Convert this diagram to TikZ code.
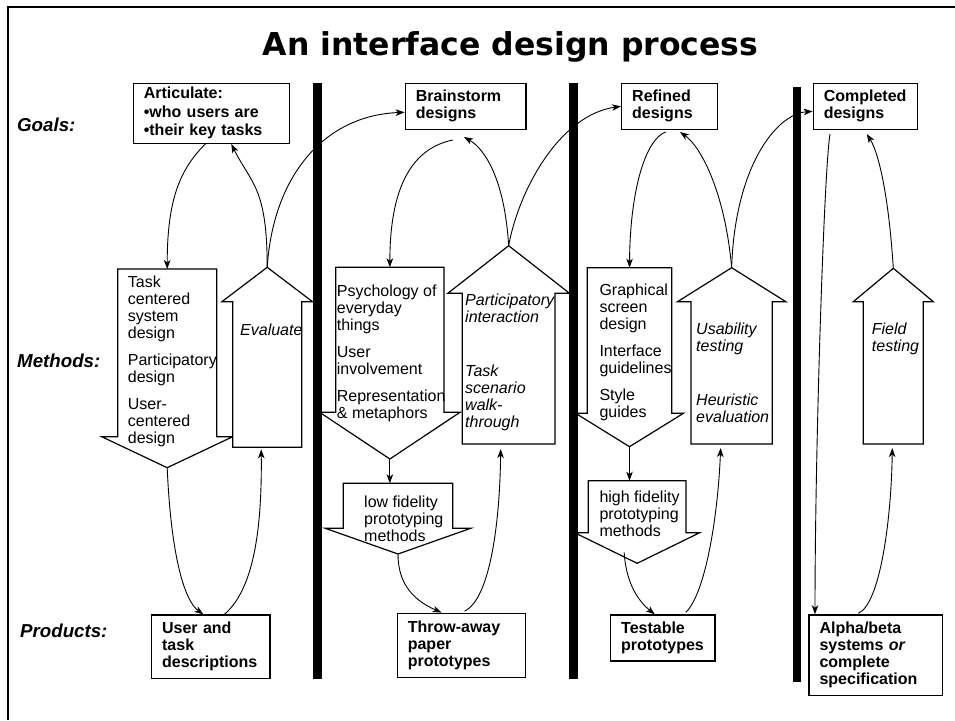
\documentclass[tikz,border=0pt]{standalone}
\usepackage{fontspec}
\setmainfont{Liberation Sans}
\newfontfamily\titlefont{DejaVu Sans}
\usetikzlibrary{calc, arrows.meta}

\begin{document}
\begin{tikzpicture}[x=1pt, y=-1pt,
  goalbox/.style={draw, line width=1.4pt, font=\fontsize{16}{17}\selectfont\bfseries, align=left, inner xsep=10.5pt, inner ysep=0pt},
  rowlab/.style={font=\fontsize{18.7}{20}\selectfont\bfseries\itshape, anchor=base west, inner sep=0pt},
  blockarrow/.style={draw, line width=1.2pt, fill=white, line join=miter},
  methtxt/.style={font=\fontsize{16}{17}\selectfont, align=left, anchor=base west, inner sep=0pt},
  evaltxt/.style={methtxt, font=\fontsize{16}{17}\selectfont\itshape},
  conn/.style={line width=0.9pt, -{Stealth[length=9pt, width=6.5pt, inset=2.5pt]}}]
  \useasboundingbox (0,0) rectangle (955,720);
  % Frame and title
  \draw[line width=2.6pt] (8,720) -- (8,7) -- (955,7);
  \node[font=\fontsize{31.5}{36}\titlefont\bfseries, anchor=base] (title) at (510.5,55) {An interface design process};
  % Rows
  \node[rowlab] (goals) at (17,131) {Goals:};
  \node[rowlab] (methods) at (17,367.7) {Methods:};
  \node[rowlab] (products) at (20,637.3) {Products:};
  % Phase bars
  \foreach \xa/\xb/\ya/\yb in {313/322/83/679, 569.3/577.7/83/679, 793.3/801/87/681.7}
    \fill (\xa,\ya) rectangle (\xb,\yb);
  % Block arrows: name/left/right/body end/shoulder/tip/head extension
  \foreach \n/\l/\r/\b/\s/\t/\e in {dTask/117.7/216.7/269/436.7/467.7/16, uEval/232.7/301.7/447.3/301.7/267.3/10.8,
      dPsych/335.7/444/267.3/412.3/459/16, uPart/462.3/555/444/293.3/245.7/14.5, dLofi/343.3/452.7/483.3/528.3/554/18,
      dGraph/587.3/671.7/267.7/413.3/446.7/11.7, uUsab/691/772.3/444/301.7/267.7/13.5, dHifi/588.3/686/480.7/532.7/563.3/13.7,
      uField/863.3/923.3/444/301.7/268.3/10} {
    \draw[blockarrow] (\l,\b) -- (\l,\s) -- (\l-\e,\s) -- ({(\l+\r)/2},\t) -- (\r+\e,\s) -- (\r,\s) -- (\r,\b) -- cycle;
    \coordinate (\n-tip) at ({(\l+\r)/2},\t);
    \coordinate (\n-end) at ({(\l+\r)/2},\b);
  }
  % Method texts (placed at the baseline of their last line)
  \node[methtxt] (tasktxt) at (127.7,443.7) {Task\\centered\\system\\design\\[10pt]Participatory\\design\\[10pt]User-\\centered\\design};
  \node[evaltxt] (evaltxt) at (240,335) {Evaluate};
  \node[methtxt] (psychtxt) at (336.7,418.7) {Psychology of\\everyday\\things\\[10pt]User\\involvement\\[10pt]Representation\\\& metaphors};
  \node[evaltxt] (parttxt) at (465,427.4) {Participatory\\interaction\\[37.4pt]Task\\scenario\\walk-\\through};
  \node[methtxt] (lofitxt) at (364,541.7) {low fidelity\\prototyping\\methods};
  \node[methtxt] (graphtxt) at (599.3,417) {Graphical\\screen\\design\\[10pt]Interface\\guidelines\\[10pt]Style\\guides};
  \node[evaltxt] (usabtxt) at (696,422.7) {Usability\\testing\\[37.7pt]Heuristic\\evaluation};
  \node[methtxt] (hifitxt) at (599.3,536.7) {high fidelity\\prototyping\\methods};
  \node[evaltxt] (fieldtxt) at (871.7,351.3) {Field\\testing};
  % Goals
  \node[goalbox, text width=135pt, minimum height=60pt] (art) at (211.3,113.3) {Articulate:\\[1.5pt]•who users are\\[1.5pt]•their key tasks};
  \node[goalbox, text width=99.7pt, minimum height=46pt] (brain) at (465.7,106.3) {Brainstorm\\designs};
  \node[goalbox, text width=75pt, minimum height=46pt] (refined) at (669.7,106.3) {Refined\\designs};
  \node[goalbox, text width=83.4pt, minimum height=46pt] (completed) at (865.5,106.3) {Completed\\designs};
  % Products
  \node[goalbox, text width=97.3pt, minimum height=63.3pt] (users) at (210.8,646.7) {User and\\task\\descriptions};
  \node[goalbox, text width=107.4pt, minimum height=64pt] (paper) at (461.5,645.3) {Throw-away\\paper\\prototypes};
  \node[goalbox, text width=83.3pt, minimum height=46pt] (testable) at (662.8,638) {Testable\\prototypes};
  \node[goalbox, text width=112.3pt, minimum height=80.7pt] (alpha) at (875.7,655.3) {Alpha/beta\\systems \textit{or}\\complete\\specification};
  % Column 1
  \draw[conn] ($(art.south)+(-6,0)$) .. controls +(-25,25) and +(0,-70) .. (dTask-end);
  \draw[conn] (uEval-tip) .. controls +(0,-80) and +(20,40) .. ($(art.south)+(20,0)$);
  \draw[conn] (uEval-tip) .. controls +(6,-92) and +(-80,3) .. ($(brain.west)+(0,6)$);
  \draw[conn] (dTask-tip) .. controls +(4,92) and +(-18,-13) .. ($(users.north)+(-7.5,0)$);
  \draw[conn] ($(users.north)+(13.5,0)$) .. controls +(26,-22) and +(1,92) .. ($(uEval-end)+(-6,2)$);
  % Column 2
  \draw[conn] ($(brain.south)+(-13,10)$) .. controls +(-48,10) and +(0,-67) .. (dPsych-end);
  \draw[conn] (uPart-tip) .. controls +(-4,-66) and +(21,12) .. ($(brain.south)+(-1.7,7)$);
  \draw[conn] (uPart-tip) .. controls +(10,-55) and +(-62,9) .. (refined.west);
  \draw[conn] (dPsych-tip) -- (dPsych-tip |- dLofi-end);
  \draw[conn] (dLofi-tip) .. controls +(0,31) and +(-27,-12) .. ($(paper.north)+(-20,0)$);
  \draw[conn] ($(paper.north)+(3,-1.5)$) .. controls +(26,-12) and +(-0.7,71) .. ($(uPart-end)+(-8,5)$);
  % Column 3
  \draw[conn] ($(refined.south)+(-4,2)$) .. controls +(-20,7) and +(0.5,-78) .. (dGraph-end);
  \draw[conn] (uUsab-tip) .. controls +(-7,-78) and +(20,14) .. ($(refined.south)+(10.3,2)$);
  \draw[conn] (uUsab-tip) .. controls +(3,-98) and +(-38,3) .. ($(completed.west)+(0,5)$);
  \draw[conn] (dGraph-tip) -- (dGraph-tip |- dHifi-end);
  \draw[conn] ($(dHifi-tip)+(-13,-11)$) .. controls +(2,33) and +(-15,-12) .. ($(testable.north)+(-8,0)$);
  \draw[conn] ($(testable.north)+(23,-2)$) .. controls +(19,-18) and +(-3,72) .. ($(uUsab-end)+(-11,4)$);
  % Column 4
  \draw[conn] ($(completed.south)+(-35.5,4)$) .. controls +(-6,36) and +(0,-165) .. ($(alpha.north)+(-60.7,0)$);
  \draw[conn] ($(alpha.north)+(-17.4,-1)$) .. controls +(21.7,-9) and +(-1,72) .. ($(uField-end)+(-1,4)$);
  \draw[conn] (uField-tip) .. controls +(-5,-78) and +(11,17) .. ($(completed.south)+(1.2,4)$);
\end{tikzpicture}
\end{document}
